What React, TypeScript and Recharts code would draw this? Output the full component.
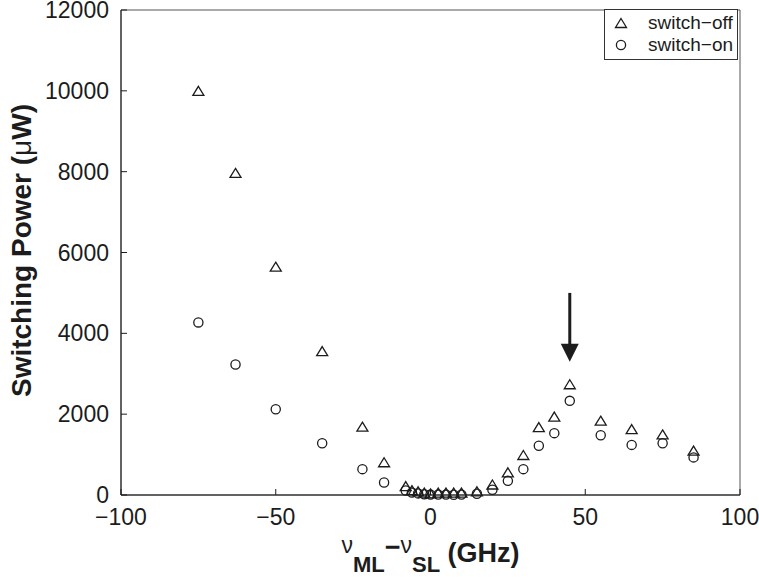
import React from "react";
import {
  ScatterChart,
  Scatter,
  XAxis,
  YAxis,
  ReferenceArea,
  ReferenceLine,
  Legend,
} from "recharts";

// detuning (GHz) shared by both series
const detuning = [-75, -63, -50, -35, -22, -15, -8, -6, -4, -2, 0, 2.5, 5, 7.5, 10, 15, 20, 25, 30, 35, 40, 45, 55, 65, 75, 85];
// switching power (uW)
const switchOffPower = [10000, 7970, 5650, 3560, 1690, 810, 220, 120, 90, 60, 40, 60, 60, 60, 60, 90, 260, 560, 990, 1680, 1940, 2740, 1840, 1630, 1500, 1100];
const switchOnPower = [4270, 3230, 2120, 1280, 640, 310, 110, 60, 40, 20, 10, 10, 10, 5, 10, 30, 130, 350, 640, 1220, 1530, 2330, 1480, 1240, 1280, 930];

const xTicks = [-100, -50, 0, 50, 100];
const yTicks = [0, 2000, 4000, 6000, 8000, 10000, 12000];

// arrow pointing at the peak
const arrowDetuning = 45;
const arrowFrom = 5000;
const arrowTo = 3300;

const offData = detuning.map((x, i) => ({ x, y: switchOffPower[i] }));
const onData = detuning.map((x, i) => ({ x, y: switchOnPower[i] }));

const FONT = "'Liberation Sans', Arial, Helvetica, sans-serif";
const INK = "#1c1c1c";

// real minus sign like the original figure
const fmt = (v: number) => String(v).replace("-", "\u2212");

const Triangle = (props: any) => {
  const { cx, cy } = props;
  if (cx == null || cy == null) return null;
  return (
    <polygon
      points={`${cx},${cy - 4.5} ${cx + 5.5},${cy + 4.5} ${cx - 5.5},${cy + 4.5}`}
      fill="none"
      stroke={INK}
      strokeWidth={1.3}
    />
  );
};

const Ring = (props: any) => {
  const { cx, cy } = props;
  if (cx == null || cy == null) return null;
  return <circle cx={cx} cy={cy} r={4.6} fill="none" stroke={INK} strokeWidth={1.3} />;
};

const Arrow = (props: any) => {
  const { x1, y1, x2, y2 } = props;
  const top = Math.min(y1, y2);
  const tip = Math.max(y1, y2);
  const x = (x1 + x2) / 2;
  return (
    <g>
      <line x1={x} y1={top} x2={x} y2={tip - 16} stroke={INK} strokeWidth={3} />
      <polygon points={`${x - 9},${tip - 18} ${x + 9},${tip - 18} ${x},${tip}`} fill={INK} />
    </g>
  );
};

const XTitle = ({ viewBox }: any) => {
  const cx = viewBox.x + viewBox.width / 2;
  const base = viewBox.y + 67;
  return (
    <text x={cx} y={base} textAnchor="middle" fontFamily={FONT} fill={INK} fontSize={27} fontWeight="bold">
      <tspan fontWeight="normal" fontSize={23} dy={-9}>ν</tspan>
      <tspan fontSize={22} dy={19}>ML</tspan>
      <tspan dy={-16}>−</tspan>
      <tspan fontWeight="normal" fontSize={23} dy={-3}>ν</tspan>
      <tspan fontSize={22} dy={19}>SL</tspan>
      <tspan dy={-10}> (GHz)</tspan>
    </text>
  );
};

const YTitle = ({ viewBox }: any) => {
  const x = viewBox.x + 21;
  const y = viewBox.y + viewBox.height / 2 - 2;
  return (
    <text
      x={x}
      y={y}
      dy="0.35em"
      transform={`rotate(-90, ${x}, ${y})`}
      textAnchor="middle"
      fontFamily={FONT}
      fill={INK}
      fontSize={28}
      fontWeight="bold"
    >
      Switching Power (<tspan fontWeight="normal">μ</tspan>W)
    </text>
  );
};

const LegendBox = ({ payload }: any) => (
  <div
    style={{
      border: "1px solid #333",
      background: "#fff",
      width: 132,
      padding: "2px 0 3px",
      fontFamily: FONT,
      fontSize: 19,
      color: INK,
    }}
  >
    {(payload || []).map((entry: any) => (
      <div key={entry.value} style={{ display: "flex", alignItems: "center", height: 22 }}>
        <svg width={43} height={22}>
          {entry.value === "switch-off" ? <Triangle cx={16} cy={11} /> : <Ring cx={16} cy={11} />}
        </svg>
        <span>{entry.value.replace("-", "\u2212")}</span>
      </div>
    ))}
  </div>
);

export default function App() {
  return (
    <div style={{ position: "absolute", left: 0, top: 0, background: "#fff" }}>
      <ScatterChart width={759} height={577} margin={{ top: 10, right: 19, bottom: 0, left: 0 }}>
        <XAxis
          type="number"
          dataKey="x"
          domain={[-100, 100]}
          ticks={xTicks}
          interval={0}
          height={82}
          tickSize={-6}
          tickMargin={20}
          tickFormatter={fmt}
          axisLine={{ stroke: INK }}
          tickLine={{ stroke: INK }}
          tick={{ fill: INK, fontSize: 23, fontFamily: FONT }}
          label={<XTitle />}
        />
        <YAxis
          type="number"
          dataKey="y"
          domain={[0, 12000]}
          ticks={yTicks}
          interval={0}
          width={121}
          tickSize={-6}
          tickMargin={18}
          axisLine={{ stroke: INK }}
          tickLine={{ stroke: INK }}
          tick={{ fill: INK, fontSize: 23, fontFamily: FONT }}
          label={<YTitle />}
        />
        <ReferenceArea x1={-100} x2={100} y1={0} y2={12000} fill="none" stroke="#555" strokeWidth={1} />
        <ReferenceLine
          segment={[
            { x: arrowDetuning, y: arrowFrom },
            { x: arrowDetuning, y: arrowTo },
          ]}
          shape={<Arrow />}
        />
        <Scatter name="switch-off" data={offData} shape={<Triangle />} isAnimationActive={false} />
        <Scatter name="switch-on" data={onData} shape={<Ring />} isAnimationActive={false} />
        <Legend
          layout="horizontal"
          verticalAlign="middle"
          align="center"
          content={<LegendBox />}
          wrapperStyle={{ position: "absolute", top: 9, left: 604, width: 134 }}
        />
      </ScatterChart>
    </div>
  );
}
